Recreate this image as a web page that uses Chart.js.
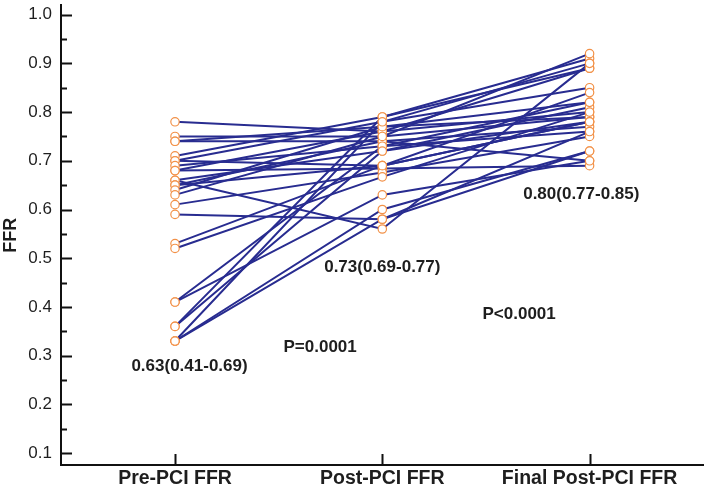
<!DOCTYPE html>
<html>
<head>
<meta charset="utf-8">
<script src="https://cdn.jsdelivr.net/npm/chart.js@4.4.0/dist/chart.umd.min.js"></script>
<style>
  html, body { margin: 0; padding: 0; background: #fff; }
  #wrap { width: 709px; height: 488px; position: relative; }
</style>
</head>
<body>
<div id="wrap"><canvas id="ffr-chart"></canvas></div>
<script>
// ---- data (one entry per patient) ----
const categories = ['Pre-PCI FFR', 'Post-PCI FFR', 'Final Post-PCI FFR'];
const preFFR   = [0.78, 0.75, 0.74, 0.74, 0.71, 0.70, 0.70, 0.69, 0.68, 0.68, 0.66, 0.66, 0.65, 0.65,
                  0.64, 0.63, 0.61, 0.59, 0.53, 0.52, 0.41, 0.41, 0.36, 0.36, 0.33, 0.33, 0.33];
const postFFR  = [0.76, 0.75, 0.74, 0.77, 0.79, 0.69, 0.78, 0.73, 0.684, 0.76, 0.72, 0.56, 0.74, 0.69,
                  0.77, 0.75, 0.676, 0.58, 0.69, 0.667, 0.73, 0.63, 0.79, 0.72, 0.60, 0.78, 0.58];
const finalFFR = [0.80, 0.79, 0.70, 0.82, 0.91, 0.78, 0.85, 0.76, 0.69, 0.89, 0.81, 0.90, 0.77, 0.84,
                  0.79, 0.92, 0.75, 0.72, 0.78, 0.80, 0.82, 0.70, 0.89, 0.78, 0.72, 0.90, 0.76];
const yTicks = [0.1, 0.2, 0.3, 0.4, 0.5, 0.6, 0.7, 0.8, 0.9, 1.0];
const noteTexts = ['0.63(0.41-0.69)', 'P=0.0001', '0.73(0.69-0.77)', 'P<0.0001', '0.80(0.77-0.85)'];

const LINE_COLOR = '#282c90';
const POINT_COLOR = '#f29148';
const TEXT_COLOR = '#1e1e1e';
const FONT = '"Liberation Sans", Arial, sans-serif';

// ---- datasets: one line per patient, points drawn on top ----
const lineSets = preFFR.map((pre, i) => ({
  data: [
    { x: 0, y: pre },
    { x: 1, y: postFFR[i] },
    { x: 2, y: finalFFR[i] }
  ],
  borderColor: LINE_COLOR,
  borderWidth: 2,
  pointRadius: 0,
  tension: 0,
  order: 1
}));

const pointSet = {
  data: [].concat(
    preFFR.map(v => ({ x: 0, y: v })),
    postFFR.map(v => ({ x: 1, y: v })),
    finalFFR.map(v => ({ x: 2, y: v }))
  ),
  showLine: false,
  pointRadius: 4.2,
  pointBorderWidth: 1.2,
  pointBorderColor: POINT_COLOR,
  pointBackgroundColor: '#fff',
  order: 0
};

// inward ticks (major + minor) drawn with the scales' own pixel mapping
const inwardTicks = {
  id: 'inwardTicks',
  afterDraw(chart) {
    const { ctx, scales: { x, y } } = chart;
    ctx.save();
    ctx.strokeStyle = '#111';
    ctx.lineWidth = 2;
    ctx.beginPath();
    for (let k = 2; k <= 20; k++) {
      const v = k / 20;
      const py = Math.round(y.getPixelForValue(v)) + 0.5;
      const len = k % 2 === 0 ? 11 : 6;
      ctx.moveTo(x.left, py);
      ctx.lineTo(x.left + len, py);
    }
    categories.forEach((c, i) => {
      const px = Math.round(x.getPixelForValue(i)) + 0.5;
      ctx.moveTo(px, y.bottom);
      ctx.lineTo(px, y.bottom - 11);
    });
    ctx.stroke();
    ctx.restore();
  }
};

// text notes anchored in data coordinates
const noteAnchors = [[0.07, 0.278], [0.70, 0.317], [1.0, 0.481], [1.66, 0.384], [1.96, 0.632]];
const notes = {
  id: 'notes',
  afterDraw(chart) {
    const { ctx, scales: { x, y } } = chart;
    ctx.save();
    ctx.font = 'bold 17px ' + FONT;
    ctx.fillStyle = TEXT_COLOR;
    ctx.textAlign = 'center';
    ctx.textBaseline = 'middle';
    noteTexts.forEach((t, i) => {
      const [ax, ay] = noteAnchors[i];
      ctx.fillText(t, x.getPixelForValue(ax), y.getPixelForValue(ay));
    });
    ctx.restore();
  }
};

new Chart(document.getElementById('ffr-chart'), {
  type: 'line',
  data: { datasets: [pointSet].concat(lineSets) },
  plugins: [inwardTicks, notes],
  options: {
    responsive: true,
    maintainAspectRatio: false,
    animation: false,
    layout: { padding: 0 },
    plugins: {
      legend: { display: false },
      tooltip: { enabled: false }
    },
    scales: {
      x: {
        type: 'linear',
        min: -0.55,
        max: 2.55,
        afterBuildTicks: s => { s.ticks = categories.map((c, i) => ({ value: i })); },
        afterFit: s => { s.height = 23; s.paddingLeft = 0; s.paddingRight = 0; },
        grid: { display: false, drawTicks: false },
        border: { color: '#111', width: 2 },
        ticks: {
          autoSkip: false,
          maxRotation: 0,
          padding: 2,
          color: TEXT_COLOR,
          font: { family: FONT, size: 19.5, weight: 'bold' },
          callback: v => categories[v]
        }
      },
      y: {
        min: 0.0755,
        max: 1.019,
        afterBuildTicks: s => { s.ticks = yTicks.map(v => ({ value: v })); },
        afterFit: s => { s.width = 61; s.paddingTop = 0; s.paddingBottom = 0; },
        grid: { display: false, drawTicks: false },
        border: { color: '#111', width: 2 },
        title: {
          display: true,
          text: 'FFR',
          color: TEXT_COLOR,
          padding: 0,
          font: { family: FONT, size: 18, weight: 'bold' }
        },
        ticks: {
          padding: 9,
          color: TEXT_COLOR,
          font: { family: FONT, size: 17 },
          callback: v => v.toFixed(1)
        }
      }
    }
  }
});
</script>
</body>
</html>
